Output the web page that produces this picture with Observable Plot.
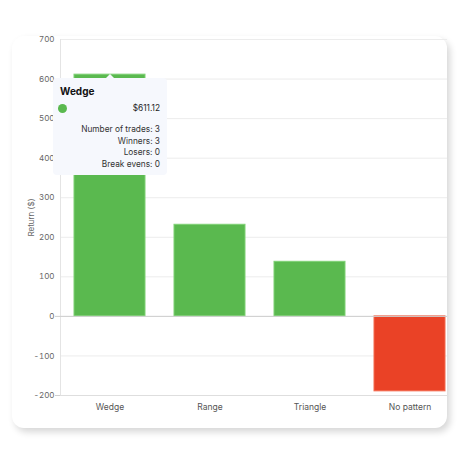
<!DOCTYPE html>
<html>
<head>
<meta charset="utf-8">
<script src="https://cdn.jsdelivr.net/npm/d3@7"></script>
<script src="https://cdn.jsdelivr.net/npm/@observablehq/plot@0.6"></script>
<style>
  html, body { margin: 0; padding: 0; background: #ffffff; }
  body { width: 460px; height: 460px; position: relative; overflow: hidden; font-family: Inter, "Noto Sans", sans-serif; }
  .card { position: absolute; left: 12px; top: 36px; width: 435px; height: 392px; background: #fff; border-radius: 12px;
          box-shadow: 3px 4px 7px rgba(0,0,0,0.16); }
  .clip { position: absolute; left: 0; top: 0; width: 447px; height: 460px; overflow: hidden; }
  .clip svg { max-width: none !important; }
  .tip { position: absolute; left: 53px; top: 78px; width: 114px; height: 97px; box-sizing: border-box;
         background: #f6f8fd; border-radius: 4px; padding: 7px 7px 0 7px; color: #222; font-size: 8.3px; }
  .tip::before { content: ""; position: absolute; left: 53px; top: -4px; width: 0; height: 0;
         border-left: 4px solid transparent; border-right: 4px solid transparent; border-bottom: 4px solid #f6f8fd; }
  .tip .title { font-weight: 700; font-size: 10px; color: #111; margin-bottom: 5px; }
  .tip .row { display: flex; justify-content: space-between; align-items: center; height: 12px; margin-bottom: 10px; }
  .tip .dot { width: 9px; height: 9px; border-radius: 50%; display: inline-block; margin-left: -2px; }
  .tip .stat { text-align: right; line-height: 11.5px; color: #333; }
</style>
</head>
<body>
<div class="card"></div>
<div class="clip" id="chart"></div>
<div class="tip" id="tip"></div>
<script>
const categories = ["Wedge", "Range", "Triangle", "No pattern"];
const returns = [611.12, 231.6, 138.0, -189.5];
const yTicks = [-200, -100, 0, 100, 200, 300, 400, 500, 600, 700];
const tipCategory = "Wedge";
const statLabels = ["Number of trades", "Winners", "Losers", "Break evens"];
const wedgeStats = [3, 3, 0, 0];

const green = "#5ab94f";
const red = "#ea4226";
const data = categories.map((c, i) => ({category: c, value: returns[i]}));

const chart = Plot.plot({
  width: 460,
  height: 460,
  marginLeft: 60,
  marginRight: 1,
  marginTop: 39,
  marginBottom: 65,
  style: {fontFamily: "Inter, 'Noto Sans', sans-serif", background: "transparent", color: "#555", maxWidth: "none"},
  x: {domain: categories, paddingInner: 0.29, paddingOuter: 0.14, label: null},
  y: {domain: [-200, 700], label: null},
  marks: [
    Plot.gridY(yTicks, {stroke: "#ececec", strokeOpacity: 1}),
    Plot.frame({anchor: "left", stroke: "#e4e4e4"}),
    Plot.barY(data, {
      x: "category", y: "value",
      fill: d => d.value >= 0 ? green : red,
      stroke: d => d.value >= 0 ? "#7fd175" : "#f46a4f",
      strokeWidth: 1
    }),
    Plot.ruleY([0], {stroke: "#cfcfcf"}),
    Plot.ruleY([-200], {stroke: "#dedede"}),
    Plot.axisY({ticks: [0, -200], tickSize: 5, text: null, stroke: "#cfcfcf", label: null}),
    Plot.axisY({ticks: yTicks, tickSize: 0, tickPadding: 6, fontSize: 8, fill: "#666",
      tickFormat: d => String(d),
      label: "Return ($)", labelAnchor: "center", labelArrow: "none", labelOffset: 32}),
    Plot.axisX({tickSize: 0, tickPadding: 8, fontSize: 8.5, fill: "#555", label: null})
  ]
});
document.getElementById("chart").appendChild(chart);

// Tooltip built from the data arrays
const idx = categories.indexOf(tipCategory);
const tip = document.getElementById("tip");
let html = `<div class="title">${tipCategory}</div>`;
html += `<div class="row"><span class="dot" style="background:${returns[idx] >= 0 ? green : red}"></span><span>$${returns[idx].toFixed(2)}</span></div>`;
html += statLabels.map((l, i) => `<div class="stat">${l}: ${wedgeStats[i]}</div>`).join("");
tip.innerHTML = html;
</script>
</body>
</html>
